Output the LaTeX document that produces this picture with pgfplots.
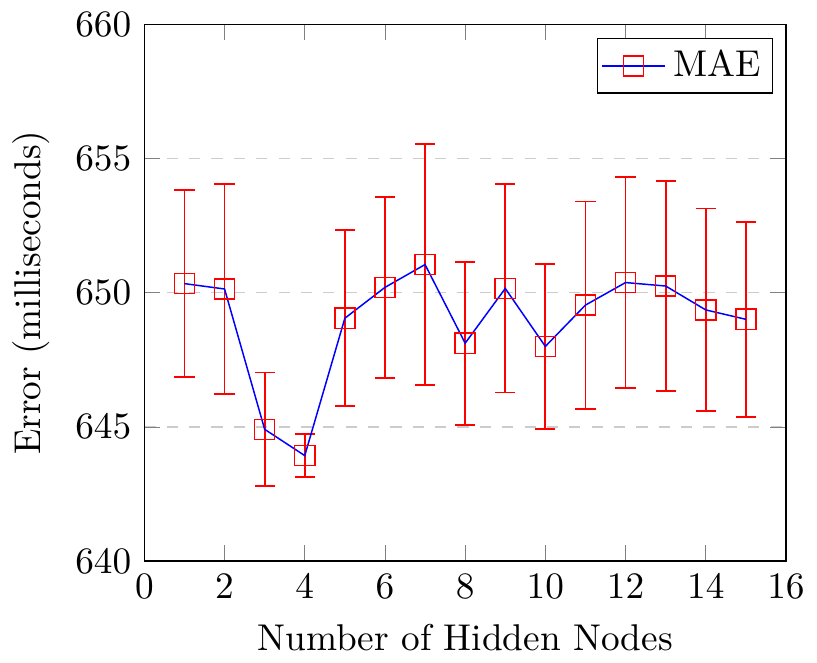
\documentclass[border=0pt]{standalone}
\usepackage{pgfplots}
\pgfplotsset{compat=1.18}
\begin{document}
\begin{tikzpicture}
\begin{axis}[
  scale only axis,
  width=6.05cm, height=5.06cm,
  xmin=0, xmax=16,
  ymin=640, ymax=660,
  xtick={0,2,...,16},
  ytick={640,645,...,660},
  ymajorgrids=true,
  grid style={dashed, gray!40},
  xlabel={Number of Hidden Nodes},
  ylabel={Error (milliseconds)},
  legend style={at={(0.98,0.975)}, anchor=north east, inner sep=1pt},
  legend cell align=left,
]
% error bars only
\addplot[draw=none, mark=none, forget plot,
  error bars/.cd, y dir=both, y explicit,
  error bar style={red, solid, line width=0.5pt},
  error mark options={red, solid, line width=0.5pt, mark size=2.7pt, rotate=90}]
coordinates {
  (1,650.34) +- (0,3.48)
  (2,650.14) +- (0,3.91)
  (3,644.91) +- (0,2.12)
  (4,643.93) +- (0,0.79)
  (5,649.05) +- (0,3.28)
  (6,650.20) +- (0,3.37)
  (7,651.05) +- (0,4.48)
  (8,648.12) +- (0,3.04)
  (9,650.16) +- (0,3.88)
  (10,648.00) +- (0,3.07)
  (11,649.54) +- (0,3.86)
  (12,650.38) +- (0,3.92)
  (13,650.25) +- (0,3.90)
  (14,649.36) +- (0,3.78)
  (15,649.01) +- (0,3.63)
};
% mean line with markers
\addplot[blue, mark=square, mark size=2.7pt, mark options={draw=red, fill=none, solid}]
coordinates {
  (1,650.34) (2,650.14) (3,644.91) (4,643.93) (5,649.05)
  (6,650.20) (7,651.05) (8,648.12) (9,650.16) (10,648.00)
  (11,649.54) (12,650.38) (13,650.25) (14,649.36) (15,649.01)
};
\addlegendentry{MAE}
\end{axis}
\end{tikzpicture}
\end{document}
